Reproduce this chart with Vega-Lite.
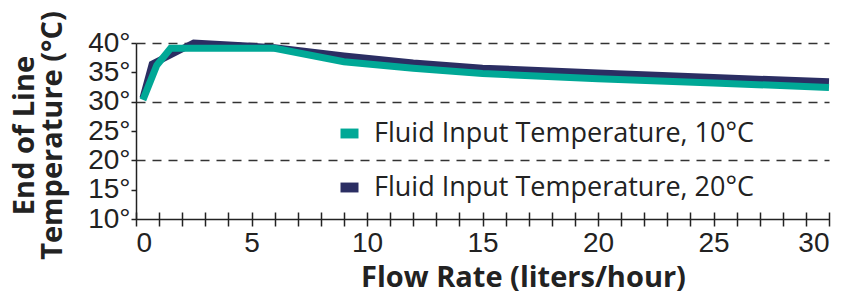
{
  "$schema": "https://vega.github.io/schema/vega-lite/v6.json",
  "width": 693,
  "height": 176,
  "autosize": {"type": "none"},
  "padding": {"left": 136, "top": 43, "right": 21, "bottom": 77},
  "background": "white",
  "config": {"view": {"stroke": null}},
  "data": {"values": [
    {"series": "Fluid Input Temperature, 20°C", "flow": 0.3, "temp": 30.6},
    {"series": "Fluid Input Temperature, 20°C", "flow": 0.7, "temp": 36.4},
    {"series": "Fluid Input Temperature, 20°C", "flow": 2.5, "temp": 40.0},
    {"series": "Fluid Input Temperature, 20°C", "flow": 6, "temp": 39.2},
    {"series": "Fluid Input Temperature, 20°C", "flow": 9, "temp": 37.8},
    {"series": "Fluid Input Temperature, 20°C", "flow": 12, "temp": 36.6},
    {"series": "Fluid Input Temperature, 20°C", "flow": 15, "temp": 35.7},
    {"series": "Fluid Input Temperature, 20°C", "flow": 20, "temp": 34.9},
    {"series": "Fluid Input Temperature, 20°C", "flow": 25, "temp": 34.1},
    {"series": "Fluid Input Temperature, 20°C", "flow": 30, "temp": 33.4},
    {"series": "Fluid Input Temperature, 10°C", "flow": 0.3, "temp": 30.3},
    {"series": "Fluid Input Temperature, 10°C", "flow": 0.9, "temp": 36.2},
    {"series": "Fluid Input Temperature, 10°C", "flow": 1.5, "temp": 39.1},
    {"series": "Fluid Input Temperature, 10°C", "flow": 6, "temp": 39.1},
    {"series": "Fluid Input Temperature, 10°C", "flow": 9, "temp": 36.8},
    {"series": "Fluid Input Temperature, 10°C", "flow": 12, "temp": 35.7},
    {"series": "Fluid Input Temperature, 10°C", "flow": 15, "temp": 34.8},
    {"series": "Fluid Input Temperature, 10°C", "flow": 20, "temp": 33.9},
    {"series": "Fluid Input Temperature, 10°C", "flow": 25, "temp": 33.2},
    {"series": "Fluid Input Temperature, 10°C", "flow": 30, "temp": 32.4}
  ]},
  "resolve": {"axis": {"x": "independent", "y": "independent"}},
  "layer": [
    {
      "transform": [{"filter": "datum.series == 'Fluid Input Temperature, 20°C'"}],
      "mark": {"type": "line", "strokeWidth": 7, "clip": false},
      "encoding": {
        "x": {"field": "flow", "type": "quantitative",
          "scale": {"domain": [0, 30], "nice": false, "zero": false},
          "axis": {"orient": "bottom", "values": [0,1,2,3,4,5,6,7,8,9,10,11,12,13,14,15,16,17,18,19,20,21,22,23,24,25,26,27,28,29,30],
            "offset": -7, "tickSize": 14, "tickWidth": 1.5, "tickColor": "#222", "domain": false, "labels": false, "grid": false, "title": null}},
        "y": {"field": "temp", "type": "quantitative",
          "scale": {"domain": [10, 40], "nice": false, "zero": false},
          "axis": {"orient": "left", "values": [10,15,20,25,30,35,40], "labelExpr": "datum.value + '°'",
            "labelFont": "Liberation Sans", "labelFontSize": 28, "labelColor": "#222", "labelPadding": 1,
            "tickSize": 5, "tickWidth": 1.5, "tickColor": "#222", "domainColor": "#222", "domainWidth": 1.5, "grid": false,
            "title": ["End of Line", "Temperature (°C)"], "titleFont": "Open Sans", "titleFontWeight": "bold", "titleFontSize": 29,
            "titleLineHeight": 28, "titleColor": "#222", "titleBaseline": "middle", "titleX": -112, "titleY": 92, "titleAngle": -90}},
        "color": {"field": "series", "type": "nominal",
          "scale": {"domain": ["Fluid Input Temperature, 10°C", "Fluid Input Temperature, 20°C"], "range": ["#00A896", "#2B2E63"]},
          "legend": {"orient": "none", "legendX": 200, "legendY": 77, "title": null, "padding": 0,
            "symbolType": "M-1,-0.55H1V0.55H-1Z", "symbolSize": 324, "symbolStrokeWidth": 0, "labelOffset": 11,
            "labelFont": "Open Sans", "labelFontSize": 27, "labelColor": "#222", "rowPadding": 26, "labelLimit": 600,
            "encode": {"symbols": {"update": {"fill": {"scale": "color", "field": "value"}, "strokeWidth": {"value": 0}}}}}}
      }
    },
    {
      "transform": [{"filter": "datum.series == 'Fluid Input Temperature, 10°C'"}],
      "mark": {"type": "line", "strokeWidth": 7, "clip": false},
      "encoding": {
        "x": {"field": "flow", "type": "quantitative",
          "axis": {"orient": "bottom", "values": [0,5,10,15,20,25,30], "ticks": false, "tickSize": 0, "domain": true,
            "domainColor": "#222", "domainWidth": 1.5, "grid": false,
            "labelFont": "Liberation Sans", "labelFontSize": 28, "labelColor": "#222", "labelPadding": 10,
            "title": "Flow Rate (liters/hour)", "titleFont": "Open Sans", "titleFontWeight": "bold", "titleFontSize": 29,
            "titleColor": "#222", "titleX": 387, "titleY": 58, "titleBaseline": "middle"}},
        "y": {"field": "temp", "type": "quantitative",
          "axis": {"orient": "left", "values": [20, 30, 40], "grid": true, "gridDash": [9, 7], "gridColor": "#333", "gridWidth": 1.5,
            "labels": false, "ticks": false, "domain": false, "title": null}},
        "color": {"field": "series", "type": "nominal"}
      }
    }
  ]
}
